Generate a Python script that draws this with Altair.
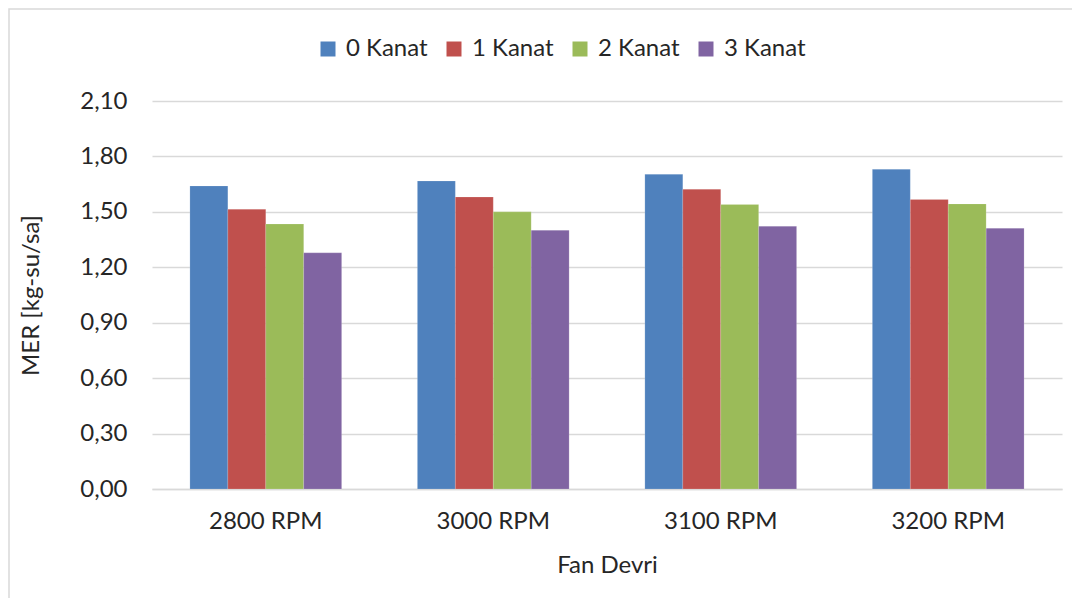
import altair as alt
import pandas as pd

categories = ["2800 RPM", "3000 RPM", "3100 RPM", "3200 RPM"]
series = ["0 Kanat", "1 Kanat", "2 Kanat", "3 Kanat"]
kanat0 = [1.64, 1.667, 1.703, 1.73]
kanat1 = [1.514, 1.58, 1.622, 1.567]
kanat2 = [1.434, 1.50, 1.54, 1.543]
kanat3 = [1.278, 1.40, 1.422, 1.411]
colors = ["#4F81BD", "#C0504D", "#9BBB59", "#8064A2"]
y_ticks = [0, 0.3, 0.6, 0.9, 1.2, 1.5, 1.8, 2.1]

rows = []
for s, vals in zip(series, [kanat0, kanat1, kanat2, kanat3]):
    for c, v in zip(categories, vals):
        rows.append({"cat": c, "series": s, "value": v})
df = pd.DataFrame(rows)

TXT = "#262626"
FS = 24

bars = alt.Chart(df).mark_bar(stroke="white", strokeWidth=0.5, strokeOpacity=0.3).encode(
    x=alt.X("cat:N", sort=categories,
            scale=alt.Scale(paddingInner=0.333, paddingOuter=0.1667),
            axis=alt.Axis(title="Fan Devri", labelAngle=0, ticks=False,
                          domainColor="#D9D9D9", domainWidth=1.5,
                          labelPadding=20, titlePadding=20,
                          labelFontSize=FS, titleFontSize=FS,
                          titleFontWeight="normal", labelColor=TXT, titleColor=TXT)),
    xOffset=alt.XOffset("series:N", sort=series),
    y=alt.Y("value:Q", scale=alt.Scale(domain=[0, 2.1], nice=False),
            axis=alt.Axis(title="MER [kg-su/sa]", values=y_ticks,
                          labelExpr="replace(format(datum.value, '.2f'), '.', ',')",
                          ticks=False, domain=False, gridColor="#D9D9D9", gridWidth=1.5,
                          labelPadding=25, titlePadding=36,
                          labelFontSize=FS, titleFontSize=FS,
                          titleFontWeight="normal", labelColor=TXT, titleColor=TXT)),
    color=alt.Color("series:N", sort=series,
                    scale=alt.Scale(domain=series, range=colors),
                    legend=alt.Legend(title=None, orient="none", direction="horizontal",
                                      legendX=164, legendY=-64,
                                      symbolType="square", symbolSize=225,
                                      symbolStrokeWidth=0, labelOffset=6,
                                      columnPadding=14, labelFontSize=FS,
                                      labelColor=TXT)),
)

border_df = pd.DataFrame({"k": [0]})
border = alt.Chart(border_df).mark_rect(fill=None, stroke="#D9D9D9", strokeWidth=1.5).encode(
    x=alt.value(-143), x2=alt.value(1000), y=alt.value(-92), y2=alt.value(600)
)

chart = alt.layer(border, bars).properties(
    width=910, height=388,
    autosize=alt.AutoSizeParams(type="none"),
    padding={"left": 144, "top": 93, "right": 10, "bottom": 109},
).configure(font="Lato").configure_view(stroke=None)

chart.save("out.html", embed_options={"renderer": "svg", "actions": False})
